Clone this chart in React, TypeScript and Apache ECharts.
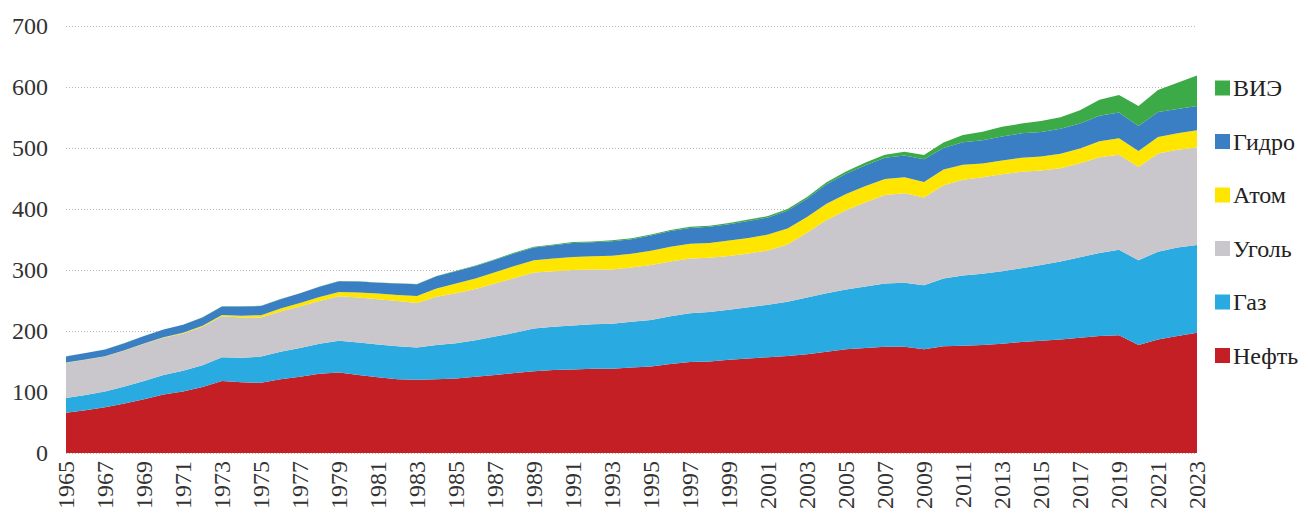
import React, { useEffect, useRef } from "react";
import * as echarts from "echarts";

const years: string[] = [];
for (let y = 1965; y <= 2023; y++) years.push(String(y));

const oil = [66, 70, 75, 81, 88, 96, 101, 108, 118, 116, 115, 121, 125, 130, 132, 128, 124, 121, 120, 121, 122, 125, 128, 131, 134, 136, 137, 138, 138, 140, 142, 146, 149, 150, 153, 155, 157, 159, 162, 166, 170, 172, 174, 174, 170, 175, 176, 177, 179, 182, 184, 186, 189, 192, 193, 177, 186, 192, 197];
const gas = [24, 25, 26, 28, 30, 32, 34, 36, 39, 40, 43, 45, 47, 49, 52, 53, 54, 54, 53, 56, 58, 60, 63, 66, 70, 71, 72, 73, 74, 75, 76, 78, 80, 81, 82, 84, 86, 89, 93, 96, 98, 101, 104, 105, 105, 111, 115, 117, 119, 121, 124, 128, 132, 136, 140, 139, 144, 145, 144];
const coal = [58, 58, 57, 59, 61, 61, 61, 63, 67, 66, 64, 66, 68, 70, 73, 74, 74, 74, 73, 79, 82, 84, 87, 90, 92, 91, 91, 90, 89, 89, 90, 90, 90, 89, 88, 88, 89, 94, 106, 120, 130, 138, 145, 147, 144, 153, 157, 158, 159, 158, 155, 153, 154, 157, 156, 153, 161, 160, 160];
const nuclear = [0.3, 0.4, 0.5, 0.6, 0.7, 0.9, 1.2, 1.7, 2.3, 3.1, 4, 4.7, 5.7, 6.6, 7, 8, 9.3, 10.2, 11.5, 13.6, 15.8, 16.9, 18.2, 19.6, 20, 20.7, 21.4, 21.5, 22.3, 22.6, 23.5, 24.3, 24, 24.4, 25.2, 25.5, 26, 26.2, 25.7, 26.5, 26.6, 26.8, 26.1, 25.9, 25.4, 25.9, 24.5, 22.6, 22.7, 23.1, 23.2, 23.5, 24, 26, 27, 26, 27, 27, 28];
const hydro = [10, 10.5, 11, 11.5, 12, 12.5, 13, 13.5, 14, 15, 15, 15.5, 16, 17, 17.5, 18, 18, 18.5, 19, 20, 20, 20.5, 20.5, 21, 21, 22, 23, 23, 24, 24, 25, 25.5, 26, 26.5, 27, 28, 28, 29, 30, 32, 33, 34, 35, 36, 37, 35, 37, 38, 39, 40, 40, 41, 41, 42, 42, 41, 41, 40, 40];
const renew = [0.2, 0.2, 0.2, 0.2, 0.2, 0.2, 0.2, 0.2, 0.2, 0.3, 0.3, 0.3, 0.3, 0.3, 0.4, 0.4, 0.4, 0.5, 0.6, 0.7, 0.8, 0.9, 1, 1, 1.1, 1.2, 1.3, 1.3, 1.4, 1.5, 1.6, 1.6, 1.7, 1.8, 2, 2.2, 2.4, 2.7, 3, 3.4, 3.9, 4.5, 5, 6, 7, 9, 12, 14, 16, 16, 18, 19, 22, 26, 29, 33, 36, 43, 50];

const yTicks = { min: 0, max: 700, interval: 100 };

const seriesDefs = [
  { name: "Нефть", data: oil, color: "#C51F26" },
  { name: "Газ", data: gas, color: "#29ABE2" },
  { name: "Уголь", data: coal, color: "#C9C7CB" },
  { name: "Атом", data: nuclear, color: "#FFE600" },
  { name: "Гидро", data: hydro, color: "#3A7EC3" },
  { name: "ВИЭ", data: renew, color: "#3BAA47" },
];

const legendOrder = ["ВИЭ", "Гидро", "Атом", "Уголь", "Газ", "Нефть"];

export default function App() {
  const ref = useRef<HTMLDivElement>(null);
  useEffect(() => {
    if (!ref.current) return;
    const chart = echarts.init(ref.current, null, { renderer: "svg" });
    const font = "Times New Roman";
    const lbl = { fontFamily: font, fontSize: 24, color: "#333" };
    chart.setOption({
      animation: false,
      backgroundColor: "#ffffff",
      textStyle: { fontFamily: font },
      grid: { left: 66, right: 111, top: 26, bottom: 62, containLabel: false },
      legend: {
        data: legendOrder,
        orient: "vertical",
        left: 1210,
        top: 71,
        icon: "rect",
        itemWidth: 15,
        itemHeight: 15,
        itemGap: 29.5,
        textStyle: { fontFamily: font, fontSize: 24, color: "#222", lineHeight: 24, padding: [0, 0, 0, -2] },
      },
      xAxis: {
        type: "category",
        data: years,
        boundaryGap: false,
        axisLine: { show: false },
        axisTick: { show: false },
        axisLabel: { interval: 1, rotate: 90, margin: 8, ...lbl },
        splitLine: { show: false },
      },
      yAxis: {
        type: "value",
        min: yTicks.min,
        max: yTicks.max,
        interval: yTicks.interval,
        axisLine: { show: false },
        axisTick: { show: false },
        axisLabel: { margin: 18, ...lbl },
        splitLine: { show: true, lineStyle: { color: "#b8b8b8", type: [1, 2], width: 1 } },
      },
      series: seriesDefs.map((s) => ({
        name: s.name,
        type: "line",
        stack: "total",
        data: s.data,
        symbol: "none",
        color: s.color,
        lineStyle: { width: 0, color: s.color },
        areaStyle: { color: s.color, opacity: 1 },
        itemStyle: { color: s.color },
        z: 2,
      })),
    });
    return () => chart.dispose();
  }, []);
  return (
    <div
      ref={ref}
      style={{ position: "absolute", left: 0, top: 0, width: 1308, height: 515, fontFamily: "Liberation Serif" }}
    />
  );
}
